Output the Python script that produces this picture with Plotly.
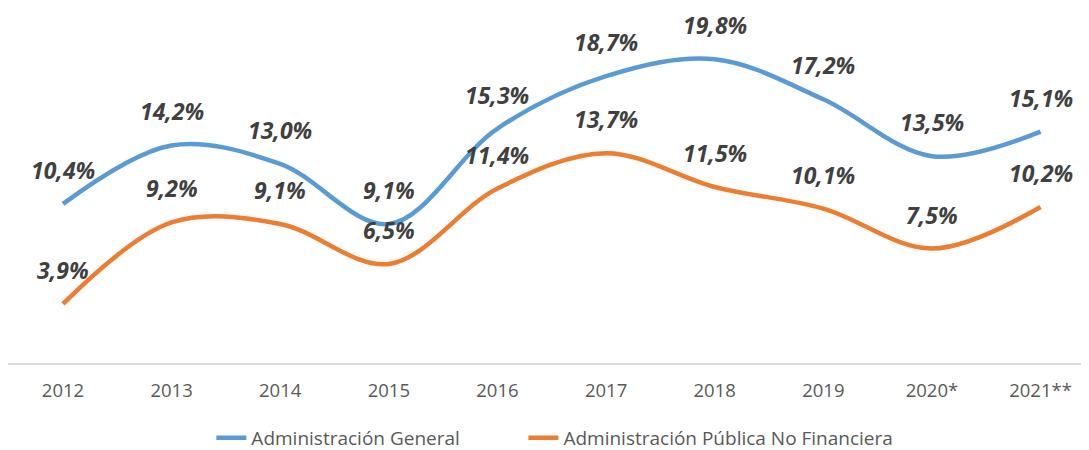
import plotly.graph_objects as go

years = ["2012", "2013", "2014", "2015", "2016", "2017", "2018", "2019", "2020*", "2021**"]
admin_general = [10.4, 14.2, 13.0, 9.1, 15.3, 18.7, 19.8, 17.2, 13.5, 15.1]
admin_publica_nf = [3.9, 9.2, 9.1, 6.5, 11.4, 13.7, 11.5, 10.1, 7.5, 10.2]

series = [
    ("Administración General", admin_general, "#5B9BD5", "legend"),
    ("Administración Pública No Financiera", admin_publica_nf, "#ED7D31", "legend2"),
]

x_idx = list(range(len(years)))

fig = go.Figure()
annotations = []
for name, vals, color, leg in series:
    fig.add_trace(go.Scatter(
        x=x_idx, y=vals, name=name, mode="lines", legend=leg,
        line=dict(color=color, width=4.5, shape="spline", smoothing=1.0),
        hoverinfo="skip",
    ))
    for xi, v in zip(x_idx, vals):
        annotations.append(dict(
            x=xi, y=v, xref="x", yref="y",
            text="<b><i>" + f"{v:.1f}".replace(".", ",") + "%</i></b>",
            showarrow=False, yshift=34,
            font=dict(family="Open Sans", size=23, color="#404040"),
        ))

legend_font = dict(family="Open Sans", size=19, color="#595959")

fig.update_layout(
    width=1081, height=442,
    margin=dict(l=0, r=5, t=2, b=86, autoexpand=False),
    paper_bgcolor="white", plot_bgcolor="white",
    annotations=annotations,
    showlegend=True,
    legend=dict(
        orientation="h", x=0.189, xanchor="left", y=-0.209, yanchor="middle",
        font=legend_font, bgcolor="rgba(0,0,0,0)",
    ),
    legend2=dict(
        orientation="h", x=0.479, xanchor="left", y=-0.209, yanchor="middle",
        font=legend_font, bgcolor="rgba(0,0,0,0)",
    ),
    xaxis=dict(
        range=[-0.506, 9.40], automargin=False,
        tickmode="array", tickvals=x_idx, ticktext=years,
        showgrid=False, zeroline=False, showline=False,
        ticks="", ticklabelstandoff=13,
        tickfont=dict(family="Open Sans", size=18.5, color="#595959"),
    ),
    yaxis=dict(
        range=[0, 23], showgrid=False, showticklabels=False, automargin=False,
        zeroline=True, zerolinecolor="#D9D9D9", zerolinewidth=1.5,
        showline=False,
    ),
)

fig.write_html("out.html")
